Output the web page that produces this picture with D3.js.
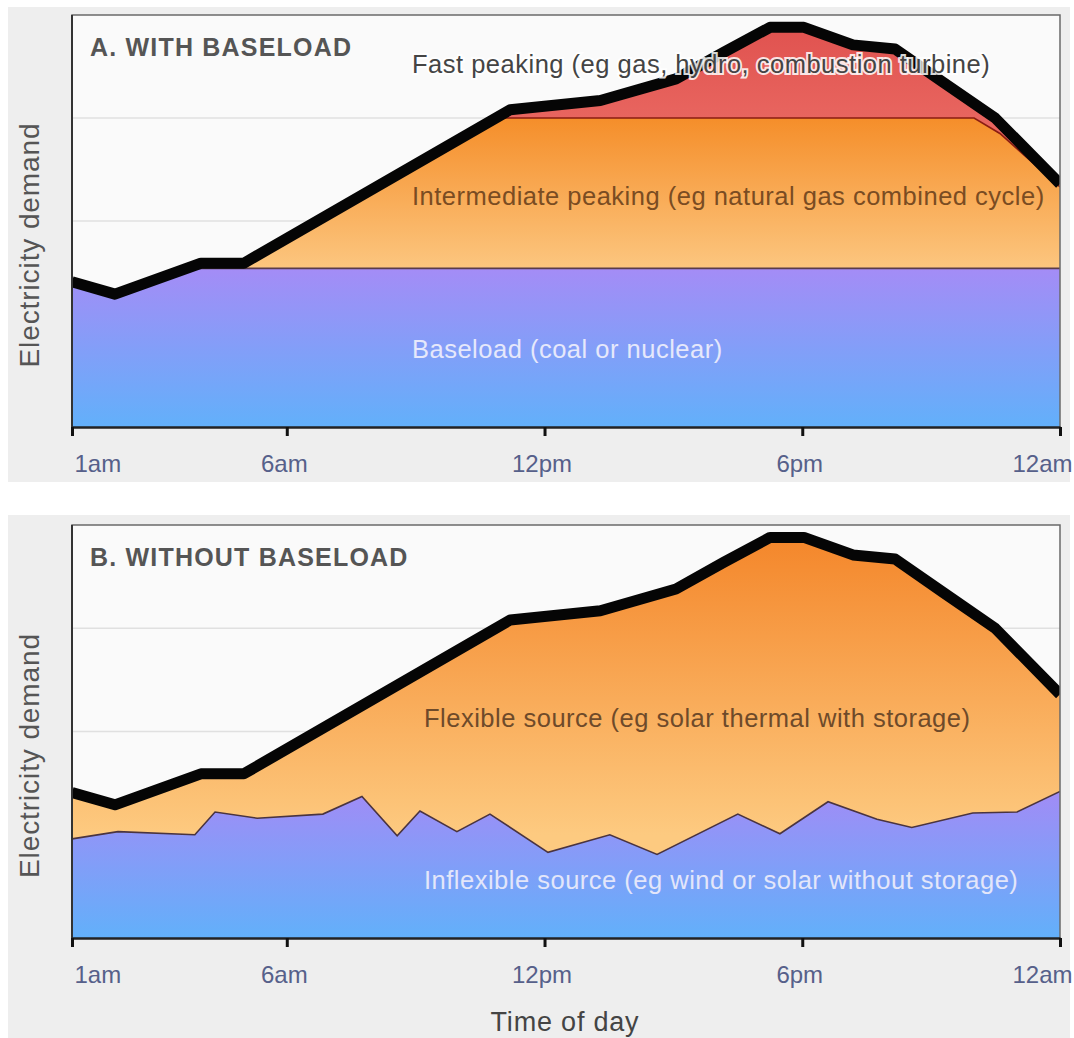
<!DOCTYPE html>
<html><head><meta charset="utf-8">
<script src="https://cdn.jsdelivr.net/npm/d3@7"></script>
<style>
body{margin:0;background:#fff;}
text{font-family:"Liberation Sans",Arial,sans-serif;}
</style></head><body>
<svg id="chart" width="1074" height="1038"></svg>
<script>
// x axis: hour of day (1 = 1am ... 24 = 12am)
var tickHours=[1,6,12,18,24];
var tickLabels=["1am","6am","12pm","6pm","12am"];
var gridValues=[1,2,3];

// total demand (black line), same curve in both panels
var demandHours=[1,2,4,5,11.2,13.3,15.06,16.18,17.25,18.04,19.18,20.16,21.27,22.49,24];
var demandValues=[1.41,1.29,1.59,1.59,3.08,3.17,3.38,3.64,3.88,3.88,3.71,3.67,3.35,3.00,2.36];

// panel A: top of baseload band, top of intermediate band
var baseloadHours=[1,2,3.67,24];
var baseloadValues=[1.41,1.29,1.54,1.54];
var intermediateHours=[1,2,4,5,10.93,22.0,22.6,24];
var intermediateValues=[1.41,1.29,1.59,1.59,3.0,3.0,2.85,2.33];

// panel B: top of inflexible band
var inflexHours=[1,2.07,3.86,4.33,5.31,6.84,7.75,8.57,9.1,9.96,10.73,12.08,13.52,14.62,16.5,17.48,18.6,19.74,20.55,21.97,23,24];
var inflexValues=[0.96,1.03,1.00,1.22,1.16,1.20,1.37,0.99,1.23,1.03,1.20,0.83,1.00,0.81,1.20,1.01,1.32,1.15,1.07,1.21,1.22,1.42];

var svg=d3.select("#chart");
var left=72,right=1060;
var x=d3.scaleLinear().domain([1,24]).range([left,right]);
var defs=svg.append("defs");

function pts(hours,values){return hours.map((h,i)=>[h,values[i]]);}

function grad(id,y1,y2,c1,c2){
	var g=defs.append("linearGradient").attr("id",id)
		.attr("gradientUnits","userSpaceOnUse")
		.attr("x1",0).attr("x2",0).attr("y1",y1).attr("y2",y2);
	g.append("stop").attr("offset",0).attr("stop-color",c1);
	g.append("stop").attr("offset",1).attr("stop-color",c2);
	return "url(#"+id+")";
}

function drawPanel(p){
	var y=d3.scaleLinear().domain([0,4]).range([p.bottom,p.top]);
	var g=svg.append("g");

	g.append("rect").attr("x",8).attr("y",p.bgTop).attr("width",1062).attr("height",p.bgBottom-p.bgTop).attr("fill","#eeeeee");
	g.append("rect").attr("x",left).attr("y",p.top).attr("width",right-left).attr("height",p.bottom-p.top).attr("fill","#fafafa");

	g.selectAll(".grid").data(gridValues).enter().append("line")
		.attr("x1",left).attr("x2",right)
		.attr("y1",d=>y(d)).attr("y2",d=>y(d))
		.attr("stroke","#e0e0e0").attr("stroke-width",1.5);

	defs.append("clipPath").attr("id","clip"+p.id).append("rect")
		.attr("x",left).attr("y",p.top).attr("width",right-left).attr("height",p.bottom-p.top);
	var plot=g.append("g").attr("clip-path","url(#clip"+p.id+")");

	var area=d3.area().x(d=>x(d[0])).y0(y(0)).y1(d=>y(d[1]));
	var line=d3.line().x(d=>x(d[0])).y(d=>y(d[1]));

	p.layers.forEach(function(l){
		var fill=l.fill(y);
		plot.append("path").datum(l.data).attr("d",area).attr("fill",fill);
		if(l.stroke) plot.append("path").datum(l.data).attr("d",line)
			.attr("fill","none").attr("stroke",l.stroke).attr("stroke-width",1.6);
	});

	plot.append("path").datum(pts(demandHours,demandValues)).attr("d",line)
		.attr("fill","none").attr("stroke","#050505").attr("stroke-width",11)
		.attr("stroke-linejoin","round");

	// frame
	g.append("path").attr("d","M"+left+","+p.bottom+"V"+p.top+"H"+right+"V"+p.bottom)
		.attr("fill","none").attr("stroke","#6a6a6a").attr("stroke-width",1.5);
	g.append("line").attr("x1",left).attr("x2",left).attr("y1",p.top).attr("y2",p.bottom)
		.attr("stroke","#333").attr("stroke-width",2);

	var axis=d3.axisBottom(x).tickValues(tickHours).tickSize(9).tickSizeOuter(0)
		.tickFormat((d,i)=>tickLabels[i]);
	var ax=g.append("g").attr("transform","translate(0,"+p.bottom+")").call(axis);
	ax.select(".domain").attr("stroke","#222").attr("stroke-width",2.5);
	ax.selectAll(".tick line").attr("stroke","#111").attr("stroke-width",3);
	ax.selectAll(".tick text").attr("fill","#56608a").attr("font-size",24)
		.attr("font-family","'Liberation Sans',Arial,sans-serif")
		.attr("y",28)
		.attr("text-anchor",(d,i)=>i===0?"start":(i===tickHours.length-1?"end":"middle"))
		.attr("dx",(d,i)=>i===0?"2":(i===tickHours.length-1?"12":"-3"));

	g.append("text").attr("transform","translate(39,"+((p.top+p.bottom)/2+24)+") rotate(-90)")
		.attr("text-anchor","middle").attr("font-size",28).attr("letter-spacing",0.9)
		.attr("fill","#555").text("Electricity demand");

	g.append("text").attr("x",90).attr("y",p.top+41).attr("font-size",25).attr("font-weight","bold")
		.attr("letter-spacing",1.2).attr("fill","#555").text(p.title);

	p.labels.forEach(function(t){
		var tx=g.append("text").attr("x",t.x).attr("y",t.y).attr("font-size",25.5)
			.attr("letter-spacing",0.5).attr("fill",t.color).text(t.text);
		if(t.halo) tx.attr("stroke","rgba(255,255,255,0.85)").attr("stroke-width",4).attr("paint-order","stroke");
	});
}

drawPanel({id:"A",top:15,bottom:427,bgTop:7,bgBottom:482,title:"A. WITH BASELOAD",
	layers:[
		{data:pts(demandHours,demandValues),fill:y=>grad("redA",y(3.9),y(3.0),"#e0524f","#e8655f")},
		{data:pts(intermediateHours,intermediateValues),stroke:"#8a1d12",fill:y=>grad("orA",y(3.0),y(1.54),"#f58e2a","#fcc67f")},
		{data:pts(baseloadHours,baseloadValues),stroke:"#5a3c4a",fill:y=>grad("puA",y(1.54),y(0),"#a48cf6","#62b0fa")}
	],
	labels:[
		{x:412,y:73,text:"Fast peaking (eg gas, hydro, combustion turbine)",color:"#444",halo:true},
		{x:412,y:205,text:"Intermediate peaking (eg natural gas combined cycle)",color:"#7a4c22"},
		{x:412,y:358,text:"Baseload (coal or nuclear)",color:"#e6e8fb"}
	]});

drawPanel({id:"B",top:525,bottom:938,bgTop:515,bgBottom:1038,title:"B. WITHOUT BASELOAD",
	layers:[
		{data:pts(demandHours,demandValues),fill:y=>grad("orB",y(3.9),y(1.0),"#f4862a","#fdca80")},
		{data:pts(inflexHours,inflexValues),stroke:"#4a3440",fill:y=>grad("puB",y(1.4),y(0),"#a08cf6","#62b0fa")}
	],
	labels:[
		{x:424,y:727,text:"Flexible source (eg solar thermal with storage)",color:"#6e4a2a"},
		{x:424,y:889,text:"Inflexible source (eg wind or solar without storage)",color:"#e3e6fa"}
	]});

svg.append("text").attr("x",565).attr("y",1031).attr("text-anchor","middle")
	.attr("font-size",27).attr("letter-spacing",0.8).attr("fill","#444").text("Time of day");
</script>
</body></html>
